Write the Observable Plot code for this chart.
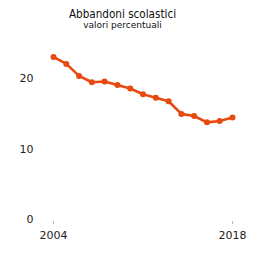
<!DOCTYPE html>
<html>
<head>
<meta charset="utf-8">
<script src="https://cdn.jsdelivr.net/npm/d3@7"></script>
<script src="https://cdn.jsdelivr.net/npm/@observablehq/plot@0.6"></script>
<style>
  html, body { margin: 0; padding: 0; background: #fff; }
  #wrap { width: 259px; height: 253px; overflow: hidden; font-family: "DejaVu Sans", Verdana, sans-serif; }
  #title { width: 245px; text-align: center; font-family: "DejaVu Sans Condensed", "DejaVu Sans", sans-serif; font-stretch: condensed; font-size: 11.6px; line-height: 12px; color: #111; padding-top: 8px; height: 12px; }
  #subtitle { width: 245px; text-align: center; font-size: 9px; line-height: 11px; color: #111; height: 11px; }
</style>
</head>
<body>
<div id="wrap">
  <div id="title">Abbandoni scolastici</div>
  <div id="subtitle">valori percentuali</div>
  <div id="chart"></div>
</div>
<script>
const years = [2004, 2005, 2006, 2007, 2008, 2009, 2010, 2011, 2012, 2013, 2014, 2015, 2016, 2017, 2018];
const values = [23.1, 22.1, 20.4, 19.5, 19.6, 19.1, 18.6, 17.8, 17.3, 16.8, 15.0, 14.7, 13.8, 14.0, 14.5];
const yTicks = [0, 10, 20];
const xTicks = [2004, 2018];

const data = years.map((y, i) => ({year: y, value: values[i]}));
const color = "#e8490f";

const chart = Plot.plot({
  width: 259,
  height: 222,
  marginLeft: 36,
  marginRight: 27,
  marginTop: 12,
  marginBottom: 34,
  style: {fontFamily: "DejaVu Sans, Verdana, sans-serif", fontSize: "11px", color: "#222", background: "#fff"},
  x: {domain: [2004, 2018], insetLeft: 17},
  y: {domain: [0, 25]},
  marks: [
    Plot.axisY({ticks: yTicks, tickSize: 0, tickPadding: 3, label: null, fontSize: 11}),
    Plot.axisX({ticks: xTicks, tickFormat: d3.format("d"), tickSize: 3, tickPadding: 7, dy: 2, label: null, stroke: "#bbb", fill: "#222", fontSize: 11}),
    Plot.line(data, {x: "year", y: "value", stroke: color, strokeWidth: 2.6}),
    Plot.dot(data, {x: "year", y: "value", fill: color, r: 3})
  ]
});
document.getElementById("chart").appendChild(chart);
</script>
</body>
</html>
